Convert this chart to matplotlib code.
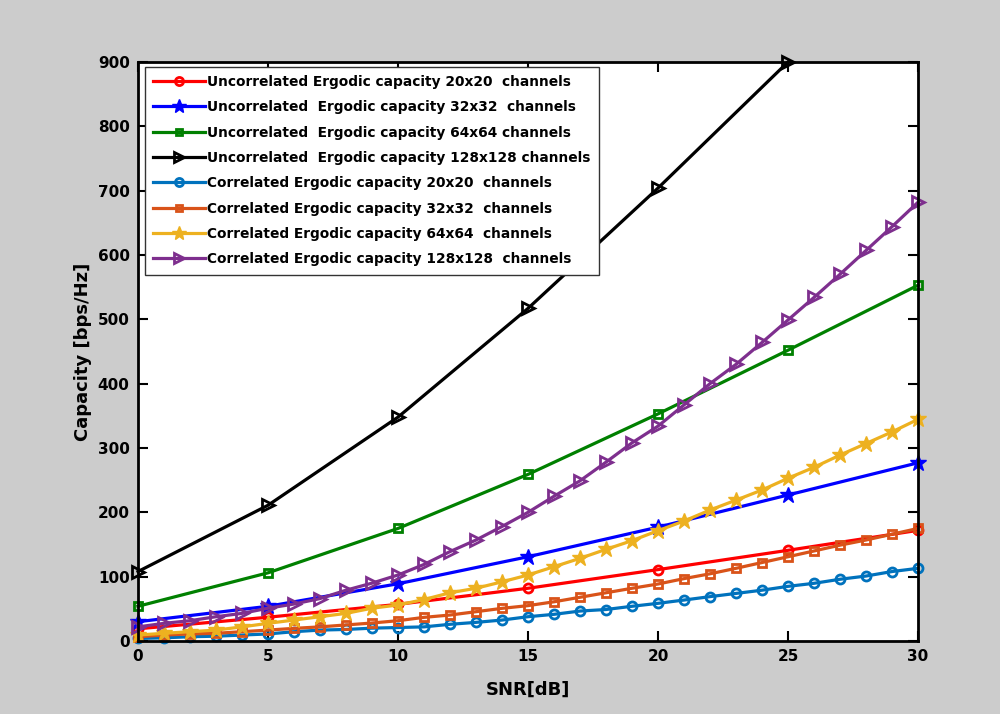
import numpy as np
import matplotlib
matplotlib.use("Agg")
import matplotlib.pyplot as plt

font = {'family': 'DejaVu Sans', 'weight': 'bold', 'size': 11}
matplotlib.rc('font', **font)

# SNR grids
snr_coarse = [0, 5, 10, 15, 20, 25, 30]
snr_fine = list(range(0, 31))

# Uncorrelated capacity (coarse grid)
unc_20 = [19, 37, 57, 82, 111, 141, 172]
unc_32 = [30, 54, 89, 131, 177, 227, 277]
unc_64 = [54, 106, 175, 259, 353, 452, 553]
unc_128 = [108, 211, 348, 517, 704, 900]

# Correlated capacity (every dB)
cor_20 = [4, 5, 6.7, 7.5, 9.3, 11, 14.5, 17, 18, 20, 21, 22, 26, 29, 32.6, 37.8,
          41.5, 46.6, 49, 54, 58.6, 63.7, 69, 74, 79, 85, 89.7, 96, 101, 108, 113]
cor_32 = [6.7, 9.3, 11, 12, 14.5, 17, 19.7, 22, 25, 28, 31.6, 36.8, 40.4, 45.6, 50.8, 55,
          61, 68, 75, 82, 88.6, 97, 104.5, 113, 122, 131, 140, 149, 157, 166, 175]
cor_64 = [9.3, 12, 14.5, 17, 22, 27.5, 32.6, 37.8, 43, 51, 56, 64.5, 75, 82, 92, 102.6,
          115.5, 128.5, 142.5, 156, 171.5, 186.5, 203.6, 219, 234.7, 253, 270, 289, 307, 325, 344.6]
cor_128 = [22, 27.5, 31.6, 37.8, 43, 51, 57.5, 66, 79, 90, 102.6, 119, 139, 157, 178, 200,
           225, 249, 278, 308, 334, 367, 400, 430, 464, 499, 534, 570, 607, 644, 682]

labels = ["Uncorrelated Ergodic capacity 20x20  channels",
          "Uncorrelated  Ergodic capacity 32x32  channels",
          "Uncorrelated  Ergodic capacity 64x64 channels",
          "Uncorrelated  Ergodic capacity 128x128 channels",
          "Correlated Ergodic capacity 20x20  channels",
          "Correlated Ergodic capacity 32x32  channels",
          "Correlated Ergodic capacity 64x64  channels",
          "Correlated Ergodic capacity 128x128  channels"]

fig = plt.figure(figsize=(10, 7.14), dpi=100, facecolor="#cccccc")
ax = fig.add_axes([0.138, 0.1022, 0.78, 0.811])

lw = 2.3
circ = dict(marker="o", mfc="none", ms=6.5, mew=2)
sq = dict(marker="s", mfc="none", ms=5.5, mew=2)
tri = dict(marker=">", mfc="none", ms=8.5, mew=2)
star = dict(marker="*", ms=12)

ax.plot(snr_coarse, unc_20, color="red", lw=lw, label=labels[0], clip_on=False, **circ)
ax.plot(snr_coarse, unc_32, color="blue", lw=lw, label=labels[1], clip_on=False, **star)
ax.plot(snr_coarse, unc_64, color="green", lw=lw, label=labels[2], clip_on=False, **sq)
ax.plot(snr_coarse[:len(unc_128)], unc_128, color="black", lw=lw, label=labels[3], clip_on=False, **tri)
ax.plot(snr_fine, cor_20, color="#0072BD", lw=lw, label=labels[4], clip_on=False, **circ)
ax.plot(snr_fine, cor_32, color="#D95319", lw=lw, label=labels[5], clip_on=False, **sq)
ax.plot(snr_fine, cor_64, color="#EDB120", lw=lw, label=labels[6], clip_on=False, **star)
ax.plot(snr_fine, cor_128, color="#7E2F8E", lw=lw, label=labels[7], clip_on=False, **tri)

ax.set_xlim(0, 30)
ax.set_ylim(0, 900)
ax.set_xticks(range(0, 31, 5))
ax.set_yticks(range(0, 901, 100))
ax.tick_params(direction="in", length=7, width=1.5, top=True, right=True, labelsize=11, pad=6)
for s in ax.spines.values():
    s.set_linewidth(2)
ax.set_xlabel("SNR[dB]", fontsize=13, fontweight="bold", labelpad=12)
ax.set_ylabel("Capacity [bps/Hz]", fontsize=13, fontweight="bold", labelpad=4)

leg = ax.legend(loc="upper left", bbox_to_anchor=(0.009, 0.992), fontsize=9.95, fancybox=False,
                edgecolor="#333333", framealpha=1, handlelength=3.75, handletextpad=0.15,
                labelspacing=0.82, borderpad=0.6, borderaxespad=0, markerscale=0.9)
leg.get_frame().set_linewidth(1)

plt.savefig("out.png", dpi=100, facecolor=fig.get_facecolor())
